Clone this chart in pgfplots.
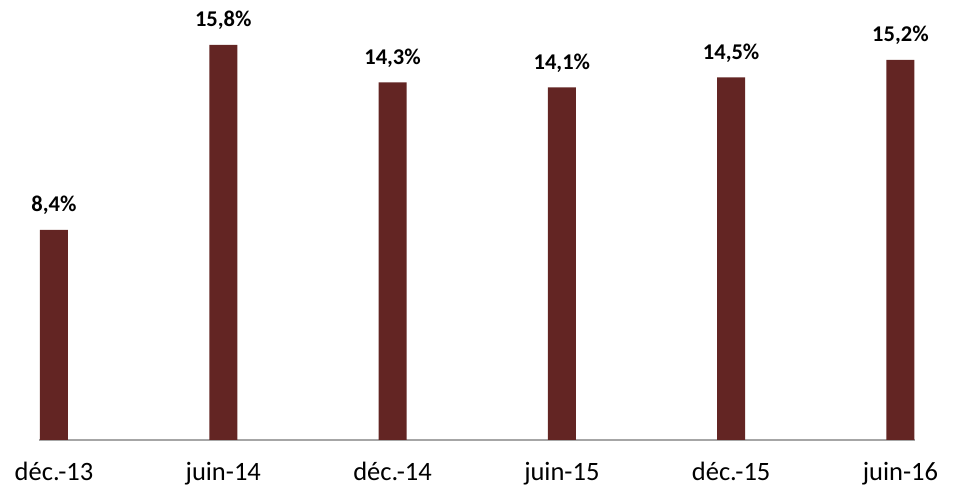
\documentclass[border=0pt]{standalone}
\usepackage{fontspec}
\setmainfont{Carlito}
\usepackage{pgfplots}
\pgfplotsset{compat=1.18}
\definecolor{barred}{HTML}{632523}
\definecolor{axisgray}{HTML}{A6A6A6}
\begin{document}
\begin{tikzpicture}
  \useasboundingbox (-39pt,-49pt) rectangle (916pt,440pt);
  \begin{axis}[
      at={(0,0)}, anchor=south west,
      scale only axis,
      width=876pt, height=440pt,
      xmin=-0.0886, xmax=5.086,
      ymin=0, ymax=17.6,
      axis x line=bottom,
      axis y line=none,
      x axis line style={draw=axisgray, line width=1.2pt, -},
      xtick={0,1,2,3,4,5},
      xticklabels={déc.-13, juin-14, déc.-14, juin-15, déc.-15, juin-16},
      xtick style={draw=none},
      xticklabel style={font=\fontsize{26.5}{30}\selectfont, anchor=base, yshift=-36pt},
      ybar, bar width=28pt,
      nodes near coords={\pgfmathprintnumber{\pgfplotspointmeta}\%},
      nodes near coords style={font=\fontsize{22.5}{26}\selectfont\bfseries, anchor=base, yshift=18pt,
        /pgf/number format/.cd, use comma, fixed, fixed zerofill, precision=1, assume math mode=true},
      clip=false,
    ]
    \addplot[fill=barred, draw=none] coordinates {
      (0,8.4) (1,15.8) (2,14.3) (3,14.1) (4,14.5) (5,15.2)
    };
  \end{axis}
\end{tikzpicture}
\end{document}
